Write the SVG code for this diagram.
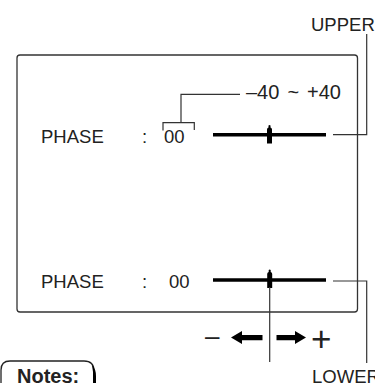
<svg xmlns="http://www.w3.org/2000/svg" width="375" height="383" viewBox="0 0 375 383">
<defs>
<style>
text{font-family:"Liberation Sans",Arial,sans-serif;fill:#222;font-size:18.5px}
.b{font-weight:bold;font-size:20px}
.thin{fill:none;stroke:#333;stroke-width:1.2}
.bar{stroke:#000;stroke-width:3.6}
.knob{fill:#000}
.arrow{fill:#000}
</style>
<path id="knobShape" d="M-2.5,8 V-6 Q-2.5,-7.5 -1,-8 L-1,-10 Q0,-11.2 1,-10 L1,-8 Q2.5,-7.5 2.5,-6 V8 Z"/>
</defs>
<rect width="375" height="383" fill="#fff"/>
<g id="screen">
<rect x="17" y="55" width="340.5" height="257" rx="3" fill="none" stroke="#333" stroke-width="1.3"/>
</g>
<g id="upper-row">
<text x="41" y="142.5">PHASE</text>
<text x="142" y="142.5">:</text>
<text x="164" y="142.5">00</text>
<line class="bar" x1="213" y1="134.7" x2="326" y2="134.7"/>
<use href="#knobShape" class="knob" transform="translate(269.5,135.5)"/>
</g>
<g id="lower-row">
<text x="41" y="288.3">PHASE</text>
<text x="142" y="288.3">:</text>
<text x="169" y="288.3">00</text>
<line class="bar" x1="213" y1="280" x2="326" y2="280"/>
<use href="#knobShape" class="knob" transform="translate(269.7,280)"/>
</g>
<g id="range-label">
<text style="font-size:20px" y="99.3"><tspan x="246">–40</tspan><tspan x="287.5">~</tspan><tspan x="307">+40</tspan></text>
</g>
<g id="upper-label">
<text x="311" y="31">UPPER</text>
</g>
<g id="lower-label">
<text x="312" y="383">LOWER</text>
</g>
<g id="direction">
<text x="205" y="345" style="font-size:26px">–</text>
<path class="arrow" d="M231,337.5 L242,331 L242,335 L262.5,335 L262.5,340.2 L242,340.2 L242,344 Z"/>
<path class="arrow" d="M306,337.5 L295,331 L295,335 L276.5,335 L276.5,340.2 L295,340.2 L295,344 Z"/>
<text x="311" y="350.5" style="font-size:35px">+</text>
</g>
<g id="notes">
<path d="M1,383 V370 Q1,361 10,361 H84 Q94,361 94,371 V383" fill="none" stroke="#222" stroke-width="1.3"/>
<path d="M92,365 Q96,369 96,376 V383 H93 V372 Z" fill="#000"/>
<text class="b" x="17" y="383">Notes:</text>
</g>
<g id="connectors">
<path class="thin" d="M163,130.5 V122.7 H194.3 V130"/>
<path class="thin" d="M181,122.7 V94.3 H240"/>
<path class="thin" d="M333,134.7 H366.7 V34"/>
<path class="thin" d="M333,281 H366.7 V363"/>
<path class="thin" d="M269.7,287 V362"/>
</g>
</svg>
